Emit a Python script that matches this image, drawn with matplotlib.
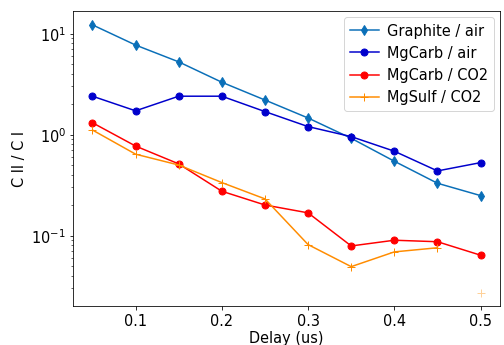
import numpy as np
import matplotlib
matplotlib.use("Agg")
import matplotlib.pyplot as plt

delay = [0.05, 0.10, 0.15, 0.20, 0.25, 0.30, 0.35, 0.40, 0.45, 0.50]

graphite_air = [12.2, 7.7, 5.25, 3.3, 2.2, 1.46, 0.92, 0.545, 0.33, 0.249]
mgcarb_air = [2.4, 1.72, 2.4, 2.4, 1.69, 1.2, 0.955, 0.685, 0.437, 0.528]
mgcarb_co2 = [1.31, 0.77, 0.513, 0.275, 0.201, 0.168, 0.079, 0.090, 0.087, 0.064]
mgsulf_co2 = [1.11, 0.64, 0.50, 0.335, 0.231, 0.0815, 0.0493, 0.069, 0.0758, np.nan]
mgsulf_co2_last = 0.0273  # faded outlier at 0.5 us

plt.rcParams["font.size"] = 14.5

fig, ax = plt.subplots(figsize=(7, 4.8), dpi=72)
fig.subplots_adjust(left=0.145, right=0.992, bottom=0.113, top=0.965)

ax.plot(delay, graphite_air, color="#0a6fb8", marker="d", markersize=7,
        linewidth=1.5, label="Graphite / air")
ax.plot(delay, mgcarb_air, color="#0000cc", marker="o", markersize=7,
        linewidth=1.5, label="MgCarb / air")
ax.plot(delay, mgcarb_co2, color="#ff0000", marker="o", markersize=7,
        linewidth=1.5, label="MgCarb / CO2")
ax.plot(delay, mgsulf_co2, color="#ff8c00", marker="+", markersize=8,
        linewidth=1.5, label="MgSulf / CO2")
ax.plot([delay[-1]], [mgsulf_co2_last], color="#ff8c00", marker="+",
        markersize=8, linestyle="none", alpha=0.4)

ax.set_yscale("log")
ax.set_xlabel("Delay (us)", labelpad=2)
ax.set_ylabel("C II / C I")
ax.legend(loc="upper right", borderaxespad=0.4, handletextpad=0.6)

fig.savefig("out.png", dpi=72)
